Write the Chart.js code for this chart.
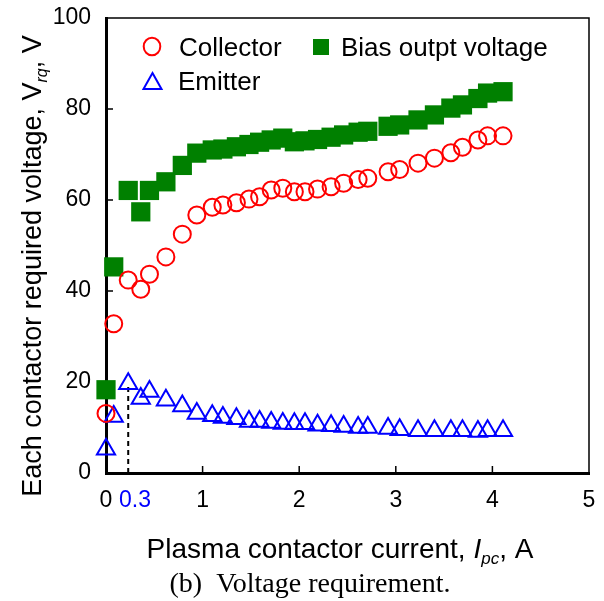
<!DOCTYPE html>
<html>
<head>
<meta charset="utf-8">
<script src="https://cdn.jsdelivr.net/npm/chart.js@4/dist/chart.umd.min.js"></script>
<style>
  html, body { margin: 0; padding: 0; background: #fff; }
  #wrap { width: 604px; height: 601px; }
</style>
</head>
<body>
<div id="wrap"><canvas id="c" width="604" height="601"></canvas></div>
<script>
// plasma contactor current, A (shared by all three series)
const currentA = [0, 0.08, 0.23, 0.36, 0.45, 0.62, 0.79, 0.94, 1.10, 1.21, 1.35, 1.48, 1.59, 1.71, 1.83, 1.95,
  2.06, 2.19, 2.33, 2.46, 2.61, 2.71, 2.92, 3.04, 3.23, 3.40, 3.57, 3.69, 3.85, 3.95, 4.11];
const collectorV = [13.1, 32.8, 42.4, 40.4, 43.7, 47.5, 52.5, 56.7, 58.4, 58.9, 59.4, 60.2, 60.7, 62.2, 62.6, 61.8,
  61.8, 62.4, 62.9, 63.7, 64.5, 64.8, 66.2, 66.7, 68.1, 69.2, 70.4, 71.6, 73.2, 74.1, 74.1];
const biasV = [18.3, 45.3, 62.1, 57.4, 62.1, 64.0, 67.6, 70.3, 71.0, 71.2, 71.7, 72.2, 72.7, 73.2, 73.6, 72.8,
  73.0, 73.3, 73.8, 74.3, 74.9, 75.1, 76.2, 76.5, 77.6, 78.7, 80.2, 80.9, 82.3, 83.5, 83.8];
const emitterV = [5.2, 12.4, 19.6, 16.4, 17.9, 16.0, 14.7, 13.1, 12.6, 12.2, 11.9, 11.3, 11.3, 11.1, 10.9, 10.8,
  10.8, 10.5, 10.4, 10.2, 10.0, 10.0, 9.8, 9.5, 9.3, 9.3, 9.3, 9.3, 9.1, 9.3, 9.3];

const xTickValues = [0, 0.3, 1, 2, 3, 4, 5];
const yTickValues = [0, 20, 40, 60, 80, 100];
const seriesNames = ["Collector", "Bias outpt voltage", "Emitter"];

const SANS = '"Liberation Sans", Arial, sans-serif';
const SERIF = '"Liberation Serif", "Times New Roman", serif';

function pts(ys) { return currentA.map((x, i) => ({ x: x, y: ys[i] })); }

// text with italic / subscript pieces
function drawRich(ctx, parts, x, y) {
  let w = 0;
  parts.forEach(p => { ctx.font = p[1]; w += ctx.measureText(p[0]).width; });
  let cx = x - w / 2;
  parts.forEach(p => {
    ctx.font = p[1];
    ctx.fillText(p[0], cx, y + (p[2] || 0));
    cx += ctx.measureText(p[0]).width;
  });
}

const decor = {
  id: "decor",
  beforeDatasetsDraw(chart) {
    const { ctx, chartArea: a, scales: { x, y } } = chart;
    ctx.save();
    // dashed marker at the emitter peak
    const px = x.getPixelForValue(currentA[2]);
    ctx.strokeStyle = "#000";
    ctx.lineWidth = 2;
    ctx.setLineDash([5, 4]);
    ctx.beginPath();
    ctx.moveTo(px, a.bottom);
    ctx.lineTo(px, y.getPixelForValue(emitterV[2]) + 2);
    ctx.stroke();
    ctx.setLineDash([]);
    // thin top / right frame
    ctx.lineWidth = 1.5;
    ctx.beginPath();
    ctx.moveTo(a.left, a.top);
    ctx.lineTo(a.right, a.top);
    ctx.lineTo(a.right, a.bottom);
    ctx.stroke();
    // inward tick marks
    ctx.beginPath();
    [20, 40, 60, 80].forEach(v => {
      const py = y.getPixelForValue(v);
      ctx.moveTo(a.left, py);
      ctx.lineTo(a.left + 7, py);
    });
    [1, 2, 3, 4].forEach(v => {
      const xx = x.getPixelForValue(v);
      ctx.moveTo(xx, a.bottom);
      ctx.lineTo(xx, a.bottom - 7);
    });
    ctx.stroke();
    ctx.restore();
  },
  afterDraw(chart) {
    const { ctx } = chart;
    ctx.save();
    ctx.fillStyle = "#000";
    ctx.textBaseline = "alphabetic";

    // legend
    ctx.lineWidth = 2;
    ctx.strokeStyle = "#ff0000";
    ctx.beginPath();
    ctx.ellipse(152, 46.5, 8.3, 8.8, 0, 0, Math.PI * 2);
    ctx.stroke();
    ctx.fillStyle = "#008000";
    ctx.fillRect(313, 39, 16, 16);
    ctx.strokeStyle = "#0000ff";
    ctx.beginPath();
    ctx.moveTo(152.5, 73);
    ctx.lineTo(161.5, 89);
    ctx.lineTo(143.5, 89);
    ctx.closePath();
    ctx.stroke();
    ctx.fillStyle = "#000";
    ctx.font = "26px " + SANS;
    ctx.textAlign = "left";
    ctx.fillText(seriesNames[0], 179, 56);
    ctx.fillText(seriesNames[1], 341, 56);
    ctx.fillText(seriesNames[2], 178, 90);

    // x title
    drawRich(ctx, [
      ["Plasma contactor current, ", "28px " + SANS],
      ["I", "italic 28px " + SANS],
      ["pc", "italic 17px " + SANS, 6],
      [", A", "28px " + SANS]
    ], 340, 558);

    // y title
    ctx.translate(41, 266);
    ctx.rotate(-Math.PI / 2);
    drawRich(ctx, [
      ["Each contactor required voltage, V", "27px " + SANS],
      ["rq", "italic 16px " + SANS, 6],
      [", V", "27px " + SANS]
    ], 0, 0);
    ctx.setTransform(1, 0, 0, 1, 0, 0);

    // caption
    ctx.font = "28px " + SERIF;
    ctx.textAlign = "center";
    ctx.fillText("(b)  Voltage requirement.", 310, 592);
    ctx.restore();
  }
};

new Chart(document.getElementById("c"), {
  type: "scatter",
  data: {
    datasets: [
      {
        label: seriesNames[0], data: pts(collectorV),
        pointStyle: "circle", pointRadius: 8.5, pointBorderWidth: 2,
        borderColor: "#ff0000", backgroundColor: "rgba(0,0,0,0)", clip: false
      },
      {
        label: seriesNames[1], data: pts(biasV),
        pointStyle: "rect", pointRadius: 13.6, pointBorderWidth: 0,
        borderColor: "#008000", backgroundColor: "#008000", clip: false
      },
      {
        label: seriesNames[2], data: pts(emitterV),
        pointStyle: "triangle", pointRadius: 10.5, pointBorderWidth: 2,
        borderColor: "#0000ff", backgroundColor: "rgba(0,0,0,0)", clip: false
      }
    ]
  },
  options: {
    responsive: false,
    animation: false,
    events: [],
    layout: { padding: { left: 0, right: 15, top: 18, bottom: 0 } },
    plugins: { legend: { display: false }, tooltip: { enabled: false } },
    scales: {
      x: {
        type: "linear", min: 0, max: 5,
        afterBuildTicks: s => { s.ticks = xTickValues.map(v => ({ value: v })); },
        afterFit: s => { s.height = 128; s.paddingLeft = 0; s.paddingRight = 0; },
        ticks: {
          autoSkip: false, maxRotation: 0, padding: 14,
          font: { family: SANS, size: 23 },
          color: c => (c.tick && c.tick.value === 0.3 ? "#0000ff" : "#000"),
          callback: v => String(v)
        },
        grid: { drawOnChartArea: false, drawTicks: false },
        border: { color: "#000", width: 3 }
      },
      y: {
        type: "linear", min: 0, max: 100,
        afterBuildTicks: s => { s.ticks = yTickValues.map(v => ({ value: v })); },
        afterFit: s => { s.width = 106; s.paddingTop = 0; s.paddingBottom = 0; },
        ticks: { padding: 15, font: { family: SANS, size: 23 }, color: "#000" },
        grid: { drawOnChartArea: false, drawTicks: false },
        border: { color: "#000", width: 3 }
      }
    }
  },
  plugins: [decor]
});
</script>
</body>
</html>
